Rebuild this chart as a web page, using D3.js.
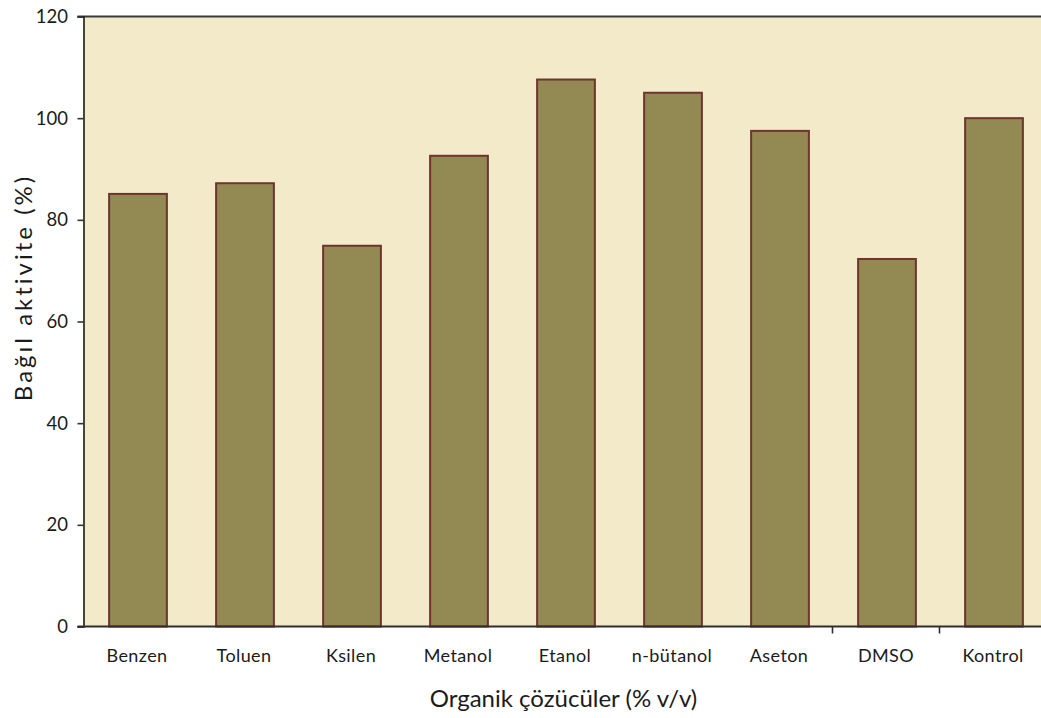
<!DOCTYPE html>
<html>
<head>
<meta charset="utf-8">
<script src="https://cdn.jsdelivr.net/npm/d3@7"></script>
<style>
  html, body { margin: 0; padding: 0; background: #ffffff; }
  svg { display: block; }
  text { font-family: Lato, "Open Sans", sans-serif; fill: #1b1b1b; }
</style>
</head>
<body>
<svg id="chart" width="1041" height="718"></svg>
<script>
// Relative activity of the enzyme in different organic solvents
const categories = ["Benzen", "Toluen", "Ksilen", "Metanol", "Etanol", "n-bütanol", "Aseton", "DMSO", "Kontrol"];
const activity   = [85.1, 87.2, 74.9, 92.6, 107.6, 105.0, 97.5, 72.3, 100.0];
const yTicks     = [0, 20, 40, 60, 80, 100, 120];
// category boundaries that carry a tick mark on the x axis
const tickedBoundaries = ["Aseton", "DMSO"];

const xTitle = "Organik çözücüler (% v/v)";
const yTitle = "Bağıl aktivite (%)";

const svg = d3.select("#chart");
const plot = { left: 83.5, top: 16.5, bottom: 626.5, right: 1046.5 };

const x = d3.scaleBand()
  .domain(categories)
  .range([plot.left, plot.right])
  .padding(0);

const y = d3.scaleLinear()
  .domain([0, 120])
  .range([plot.bottom, plot.top]);

// plot background
svg.append("rect")
  .attr("x", plot.left)
  .attr("y", plot.top)
  .attr("width", plot.right - plot.left)
  .attr("height", plot.bottom - plot.top)
  .attr("fill", "#f2eac8");

// bars
const barFrac = 0.54;
svg.append("g")
  .selectAll("rect")
  .data(categories.map((c, i) => ({ c, v: activity[i] })))
  .join("rect")
  .attr("x", d => x(d.c) + x.bandwidth() * (1 - barFrac) / 2 + 1)
  .attr("width", x.bandwidth() * barFrac)
  .attr("y", d => y(d.v))
  .attr("height", d => y(0) - y(d.v))
  .attr("fill", "#938952")
  .attr("stroke", "#6f3430")
  .attr("stroke-width", 2);

// top frame line
svg.append("line")
  .attr("x1", plot.left - 6).attr("x2", plot.right)
  .attr("y1", plot.top).attr("y2", plot.top)
  .attr("stroke", "#3a3a3a")
  .attr("stroke-width", 2);

// y axis
const yAxis = svg.append("g")
  .attr("transform", `translate(${plot.left},0)`)
  .call(d3.axisLeft(y).tickValues(yTicks).tickSize(6).tickPadding(9.5).tickFormat(d3.format("d")));
yAxis.select(".domain").attr("stroke", "#1b1b1b").attr("stroke-width", 1.6);
yAxis.selectAll(".tick line").attr("stroke", "#333").attr("stroke-width", 1.6);
yAxis.selectAll(".tick text")
  .attr("font-size", 18.5)
  .style("font-family", "Lato, sans-serif")
  .attr("fill", "#1b1b1b");

// x axis: category labels, baseline and boundary ticks
const xAxis = svg.append("g")
  .attr("transform", `translate(0,${plot.bottom})`)
  .call(d3.axisBottom(x).tickSize(0).tickPadding(23));
xAxis.select(".domain").remove();
xAxis.selectAll(".tick text")
  .attr("font-size", 18)
  .attr("letter-spacing", 0.4)
  .style("font-family", "Lato, sans-serif")
  .attr("fill", "#1b1b1b");

svg.append("line")
  .attr("x1", plot.left - 6).attr("x2", plot.right)
  .attr("y1", plot.bottom).attr("y2", plot.bottom)
  .attr("stroke", "#2e2e2e")
  .attr("stroke-width", 2);

svg.append("g")
  .selectAll("line")
  .data(tickedBoundaries)
  .join("line")
  .attr("x1", d => x(d) + x.bandwidth())
  .attr("x2", d => x(d) + x.bandwidth())
  .attr("y1", plot.bottom)
  .attr("y2", plot.bottom + 7)
  .attr("stroke", "#2e2e2e")
  .attr("stroke-width", 1.6);

// axis titles
svg.append("text")
  .attr("x", 563.5)
  .attr("y", 707)
  .attr("text-anchor", "middle")
  .attr("font-size", 24)
  .text(xTitle);

svg.append("text")
  .attr("transform", "translate(32,287.5) rotate(-90)")
  .attr("text-anchor", "middle")
  .attr("font-size", 24)
  .attr("letter-spacing", 3)
  .text(yTitle);
</script>
</body>
</html>
